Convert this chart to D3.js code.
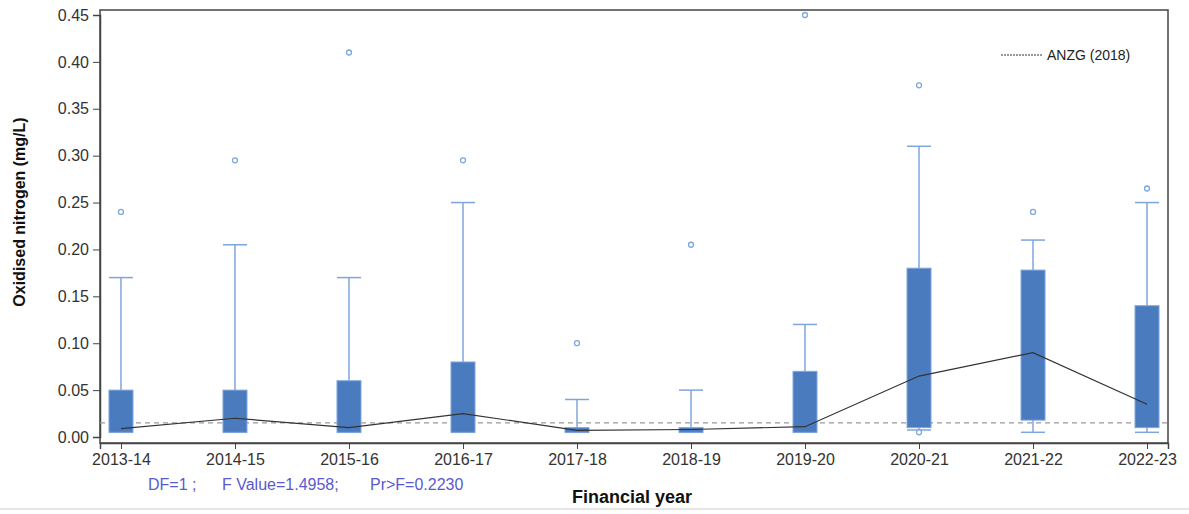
<!DOCTYPE html>
<html>
<head>
<meta charset="utf-8">
<script src="https://cdn.jsdelivr.net/npm/d3@7"></script>
<style>
  body { margin: 0; background: #fff; }
  text { font-family: "Liberation Sans", Arial, sans-serif; }
</style>
</head>
<body>
<svg id="chart" width="1189" height="514"></svg>
<script>
// data
var years = ["2013-14", "2014-15", "2015-16", "2016-17", "2017-18", "2018-19", "2019-20", "2020-21", "2021-22", "2022-23"];
var q1 =        [0.005, 0.005, 0.005, 0.005, 0.005, 0.005, 0.005, 0.010, 0.018, 0.010];
var q3 =        [0.050, 0.050, 0.060, 0.080, 0.010, 0.010, 0.070, 0.180, 0.178, 0.140];
var whiskLow =  [0.005, 0.005, 0.005, 0.005, 0.005, 0.005, 0.005, 0.0075, 0.005, 0.005];
var whiskHigh = [0.170, 0.205, 0.170, 0.250, 0.040, 0.050, 0.120, 0.310, 0.210, 0.250];
var means =     [0.009, 0.020, 0.010, 0.025, 0.007, 0.008, 0.011, 0.065, 0.090, 0.035];
var outliers = [
  ["2013-14", 0.240], ["2014-15", 0.295], ["2015-16", 0.410], ["2016-17", 0.295],
  ["2017-18", 0.100], ["2018-19", 0.205], ["2019-20", 0.450], ["2020-21", 0.375],
  ["2020-21", 0.005], ["2021-22", 0.240], ["2022-23", 0.265]
];
var yTicks = [0, 0.05, 0.10, 0.15, 0.20, 0.25, 0.30, 0.35, 0.40, 0.45];
var anzg = 0.015;
var statsText = ["DF=1 ;", "F Value=1.4958;", "Pr>F=0.2230"];

var svg = d3.select("#chart");
var plotLeft = 100, plotRight = 1168, plotTop = 10, plotBottom = 443;

var x = d3.scalePoint().domain(years).range([plotLeft, plotRight]).padding(0.184);
var y = d3.scaleLinear().domain([0, 0.45]).range([437, 15]);

var boxW = 24;
var boxFill = "#4a7bbf", whiskCol = "#7fa6dc";
var fontFam = "'Liberation Sans', Arial, sans-serif";

// frame
svg.append("rect")
  .attr("x", plotLeft).attr("y", plotTop)
  .attr("width", plotRight - plotLeft).attr("height", plotBottom - plotTop)
  .attr("fill", "none").attr("stroke", "#444").attr("stroke-width", 1.5);

// y axis
var yAxis = svg.append("g")
  .attr("transform", "translate(" + plotLeft + ",0)")
  .call(d3.axisLeft(y).tickValues(yTicks).tickFormat(d3.format(".2f")).tickSize(7).tickPadding(4));
yAxis.select(".domain").attr("stroke", "#444").attr("stroke-width", 1.5);
yAxis.selectAll(".tick line").attr("stroke", "#444");
yAxis.selectAll("text").attr("font-size", 16).attr("fill", "#333").style("font-family", fontFam);

// x axis
var xAxis = svg.append("g")
  .attr("transform", "translate(0," + plotBottom + ")")
  .call(d3.axisBottom(x).tickSize(6).tickPadding(5));
xAxis.select(".domain").attr("stroke", "#444").attr("stroke-width", 1.5);
xAxis.selectAll(".tick line").attr("stroke", "#444");
xAxis.selectAll("text").attr("font-size", 16).attr("fill", "#333").style("font-family", fontFam);

// reference line
svg.append("line")
  .attr("x1", plotLeft).attr("x2", plotRight)
  .attr("y1", y(anzg)).attr("y2", y(anzg))
  .attr("stroke", "#999").attr("stroke-width", 1.3).attr("stroke-dasharray", "5,4");

// boxes
var g = svg.append("g");
years.forEach(function(yr, i) {
  var cx = x(yr);
  g.append("line")
    .attr("x1", cx).attr("x2", cx)
    .attr("y1", y(q3[i])).attr("y2", y(whiskHigh[i]))
    .attr("stroke", whiskCol).attr("stroke-width", 1.5);
  g.append("line")
    .attr("x1", cx - boxW / 2).attr("x2", cx + boxW / 2)
    .attr("y1", y(whiskHigh[i])).attr("y2", y(whiskHigh[i]))
    .attr("stroke", whiskCol).attr("stroke-width", 1.5);
  g.append("line")
    .attr("x1", cx).attr("x2", cx)
    .attr("y1", y(q1[i])).attr("y2", y(whiskLow[i]))
    .attr("stroke", whiskCol).attr("stroke-width", 1.5);
  g.append("line")
    .attr("x1", cx - boxW / 2).attr("x2", cx + boxW / 2)
    .attr("y1", y(whiskLow[i])).attr("y2", y(whiskLow[i]))
    .attr("stroke", whiskCol).attr("stroke-width", 1.5);
  g.append("rect")
    .attr("x", cx - boxW / 2).attr("y", y(q3[i]))
    .attr("width", boxW).attr("height", Math.max(y(q1[i]) - y(q3[i]), 2))
    .attr("fill", boxFill).attr("stroke", whiskCol).attr("stroke-width", 1);
});

// outliers
g.selectAll("circle.out")
  .data(outliers)
  .enter().append("circle")
  .attr("class", "out")
  .attr("cx", function(d) { return x(d[0]); })
  .attr("cy", function(d) { return y(d[1]); })
  .attr("r", 2.5)
  .attr("fill", "#fff").attr("stroke", whiskCol).attr("stroke-width", 1.3);

// mean line
var line = d3.line()
  .x(function(d, i) { return x(years[i]); })
  .y(function(d) { return y(d); });
svg.append("path")
  .datum(means)
  .attr("d", line)
  .attr("fill", "none").attr("stroke", "#333").attr("stroke-width", 1.2);

// legend
svg.append("line")
  .attr("x1", 1001).attr("x2", 1042).attr("y1", 55).attr("y2", 55)
  .attr("stroke", "#333").attr("stroke-width", 1).attr("stroke-dasharray", "2,1");
svg.append("text")
  .attr("x", 1047).attr("y", 60)
  .attr("font-size", 14).attr("fill", "#222")
  .text("ANZG (2018)");

// titles
svg.append("text")
  .attr("transform", "translate(25,212) rotate(-90)")
  .attr("text-anchor", "middle")
  .attr("font-size", 16).attr("font-weight", "bold").attr("fill", "#111")
  .text("Oxidised nitrogen (mg/L)");

svg.append("text")
  .attr("x", 632).attr("y", 503)
  .attr("text-anchor", "middle")
  .attr("font-size", 18).attr("font-weight", "bold").attr("fill", "#111")
  .text("Financial year");

var statsX = [148, 222, 370];
svg.selectAll("text.stats")
  .data(statsText)
  .enter().append("text")
  .attr("class", "stats")
  .attr("x", function(d, i) { return statsX[i]; })
  .attr("y", 490)
  .attr("font-size", 16).attr("fill", "#5a5ad0")
  .text(function(d) { return d; });

// page edge line
svg.append("line")
  .attr("x1", 0).attr("x2", 1189).attr("y1", 509).attr("y2", 509)
  .attr("stroke", "#ccc").attr("stroke-width", 1);
</script>
</body>
</html>
